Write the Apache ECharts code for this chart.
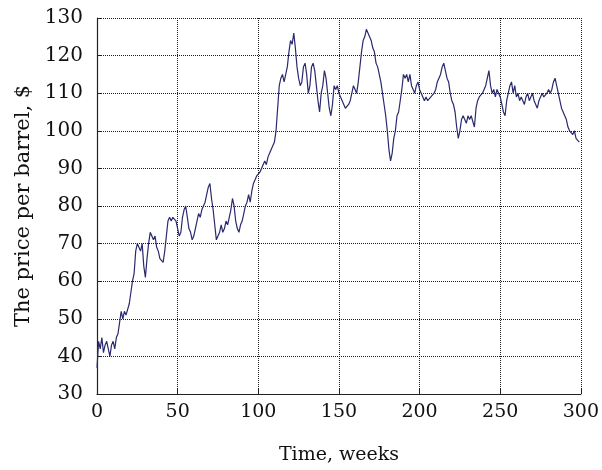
<!DOCTYPE html>
<html>
<head>
<meta charset="utf-8">
<script src="https://cdn.jsdelivr.net/npm/echarts@6/dist/echarts.min.js"></script>
<style>html,body{margin:0;padding:0;background:#fff}#c{width:602px;height:470px}</style>
</head>
<body>
<div id="c"></div>
<script>
const xTicks = [0, 50, 100, 150, 200, 250, 300];
const yTicks = [30, 40, 50, 60, 70, 80, 90, 100, 110, 120, 130];
const xName = 'Time, weeks';
const yName = 'The price per barrel, $';
// weekly price, week 0..299
const prices = [
  37,44,42,45,41,43,44,42,40,43, 44,42,45,46,49,52,50,52,51,51,
  54,57,60,62,68,70,69,68,70,64, 61,66,70,73,72,71,72,69,68,66,
  66,65,68,72,76,77,76,77,77,76, 74,72,73,77,79,80,77,74,73,71,
  72,74,76,78,77,79,80,81,83,85, 86,82,79,75,71,72,73,75,73,74,
  76,75,77,79,82,80,76,74,73,75, 76,78,80,81,83,81,84,86,87,88,
  88,89,90,91,92,91,93,94,95,96, 97,100,106,112,114,115,113,115,117,121,
  124,123,126,122,117,114,112,113,117,118, 115,110,112,117,118,116,112,108,105,110,
  112,116,114,110,106,104,107,112,111,112, 110,109,108,107,106,106,107,108,108,112,
  111,110,113,117,121,124,125,127,126,126, 124,122,121,118,117,115,113,110,107,104,
  100,95,92,94,98,100,104,105,108,111, 115,114,115,113,115,112,111,110,112,113,
  111,110,109,108,109,108,108,109,109,110, 111,113,113,115,117,118,116,114,113,110,
  108,107,105,101,98,100,103,104,103,102, 104,103,104,104,101,106,108,109,109,110,
  110,112,114,116,112,110,111,109,111,110, 109,107,105,104,108,110,112,113,110,112,
  109,110,108,109,108,107,109,110,108,109, 110,108,107,106,108,109,110,109,109,110,
  111,110,111,113,114,112,110,108,106,105, 104,103,101,100,100,99,100,98,98,97
];

const seriesData = prices.map((v, i) => [i, v]);
const font = 'DejaVu Serif';
const chart = echarts.init(document.getElementById('c'), null, {renderer: 'canvas'});
chart.setOption({
  animation: false,
  backgroundColor: '#fff',
  grid: {left: 97, right: 19, top: 18, bottom: 76, show: false},
  xAxis: {
    type: 'value', min: xTicks[0], max: xTicks[xTicks.length - 1], interval: 50,
    name: xName, nameLocation: 'middle', nameGap: 52,
    nameTextStyle: {fontFamily: font, fontSize: 19, color: '#111'},
    axisLine: {show: true, onZero: false, lineStyle: {color: '#222', width: 1.2}},
    axisTick: {show: true, inside: true, length: 5, lineStyle: {color: '#222'}},
    axisLabel: {fontFamily: font, fontSize: 19, color: '#111', margin: 9},
    splitLine: {show: true, showMinLine: true, showMaxLine: true, lineStyle: {color: ['#1a1a1a'], type: 'dotted', width: 1}}
  },
  yAxis: {
    type: 'value', min: yTicks[0], max: yTicks[yTicks.length - 1], interval: 10,
    name: yName, nameLocation: 'middle', nameGap: 62, nameRotate: 90,
    nameTextStyle: {fontFamily: font, fontSize: 21, color: '#111'},
    axisLine: {show: true, onZero: false, lineStyle: {color: '#222', width: 1.2}},
    axisTick: {show: true, inside: true, length: 5, lineStyle: {color: '#222'}},
    axisLabel: {fontFamily: font, fontSize: 20, color: '#111', margin: 14},
    splitLine: {show: true, showMinLine: true, showMaxLine: true, lineStyle: {color: ['#1a1a1a'], type: 'dotted', width: 1}}
  },
  series: [{
    type: 'line', data: seriesData, showSymbol: false, symbol: 'none',
    lineStyle: {color: '#2a2a6e', width: 1.2}
  }]
});
</script>
</body>
</html>
